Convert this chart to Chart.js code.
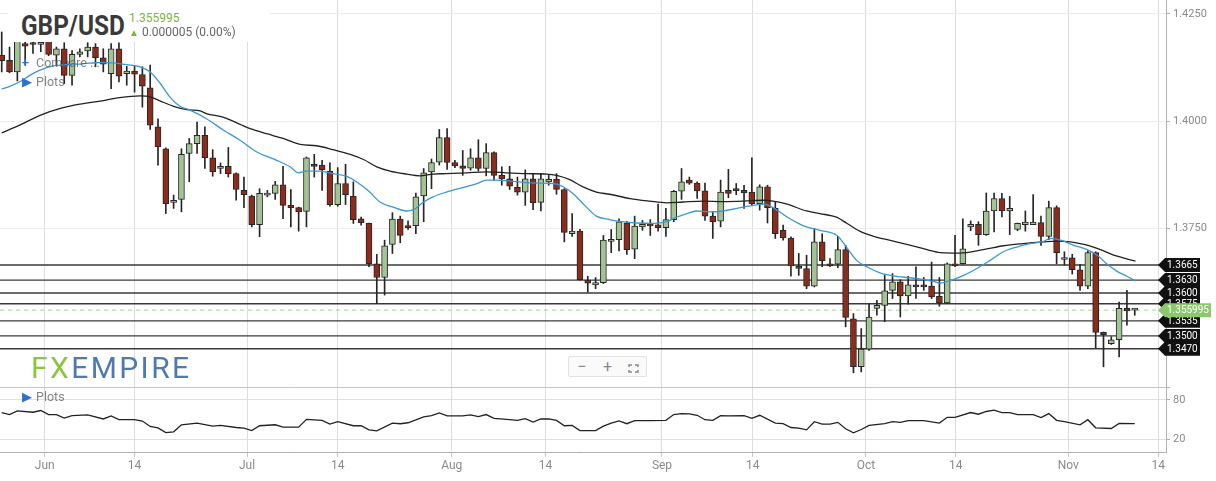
<!DOCTYPE html>
<html>
<head>
<meta charset="utf-8">
<script src="https://cdn.jsdelivr.net/npm/chart.js@4.4.1/dist/chart.umd.min.js"></script>
<style>
  body { margin: 0; background: #fff; font-family: Roboto, "Open Sans", sans-serif; }
  #wrap { position: relative; width: 1216px; height: 481px; overflow: hidden; }
  canvas { position: absolute; left: 0; }
  #main { top: 0; }
  #osc { top: 387px; }
  .abs { position: absolute; white-space: nowrap; }
  #hdrBox { left: 8px; top: 0; width: 262px; height: 42px; background: #fff; }
  #title { left: 21px; top: 9px; font-size: 28px; font-weight: 700; color: #3a3a3a; transform: scaleX(0.87); transform-origin: left; }
  #last { left: 129px; top: 11px; font-size: 12px; color: #7cb342; }
  #chg { left: 129px; top: 25px; font-size: 12px; color: #666; }
  #chg b { color: #7cb342; font-size: 10px; font-weight: 400; }
  .menu { font-size: 12.5px; color: rgba(90, 90, 90, 0.75); }
  .menu i { font-style: normal; color: #2f6fd6; display: inline-block; width: 14px; }
  #cmp { left: 22px; top: 55px; }
  #plt { left: 22px; top: 74px; }
  #plt2 { left: 22px; top: 389px; }
  #logo { left: 31px; top: 350px; font-size: 30px; letter-spacing: 2.4px; color: #4f79b0; }
  #logo span { color: #8cc63e; }
  #zoomBar { left: 568px; top: 356px; width: 77px; height: 19px; border: 1px solid #e2e2e2; border-radius: 2px; background: #fafafa; display: flex; }
  #zoomBar div { flex: 1; text-align: center; color: #8a8a8a; font-size: 16px; line-height: 19px; }
</style>
</head>
<body>
<div id="wrap">
  <canvas id="main" width="1216" height="387"></canvas>
  <canvas id="osc" width="1216" height="94"></canvas>

  <div id="hdrBox" class="abs"></div>
  <div id="title" class="abs">GBP/USD</div>
  <div id="last" class="abs">1.355995</div>
  <div id="chg" class="abs"><b>▲</b> 0.000005 (0.00%)</div>
  <div id="cmp" class="abs menu"><i>+</i>Compare ...</div>
  <div id="plt" class="abs menu"><i>▶</i>Plots</div>
  <div id="plt2" class="abs menu"><i>▶</i>Plots</div>
  <div id="logo" class="abs"><span>FX</span>EMPIRE</div>
  <div id="zoomBar" class="abs">
    <div>−</div><div>+</div>
    <div><svg width="11" height="9" viewBox="0 0 11 9" style="vertical-align:-1px"><path d="M1 3V1h3M7 1h3v2M10 6v2H7M4 8H1V6" fill="none" stroke="#8a8a8a" stroke-width="1.5"/></svg></div>
  </div>
</div>

<script>
// =====================
// DATA (daily candles, Sun-Fri, 25 May - 10 Nov 2021)
// =====================

const opens = [
  1.4154, 1.4142, 1.4115, 1.4181, 1.4183, 1.4179, 1.4189, 1.4154, 1.4169, 1.4107,
  1.4156, 1.4164, 1.4173, 1.4148, 1.4111, 1.4169, 1.4111, 1.4117, 1.4109, 1.4078,
  1.3987, 1.3936, 1.3811, 1.3818, 1.3925, 1.3948, 1.3967, 1.3915, 1.3890, 1.3895,
  1.3878, 1.3839, 1.3826, 1.3759, 1.3828, 1.3832, 1.3852, 1.3804, 1.3799, 1.3790,
  1.3900, 1.3898, 1.3884, 1.3806, 1.3855, 1.3826, 1.3773, 1.3762, 1.3668, 1.3636,
  1.3713, 1.3772, 1.3757, 1.3757, 1.3826, 1.3882, 1.3905, 1.3962, 1.3904, 1.3896,
  1.3891, 1.3915, 1.3890, 1.3927, 1.3874, 1.3866, 1.3846, 1.3835, 1.3866, 1.3811,
  1.3859, 1.3865, 1.3841, 1.3738, 1.3744, 1.3630, 1.3619, 1.3624, 1.3720, 1.3724,
  1.3763, 1.3702, 1.3754, 1.3760, 1.3759, 1.3752, 1.3771, 1.3837, 1.3863, 1.3856,
  1.3838, 1.3779, 1.3767, 1.3839, 1.3843, 1.3839, 1.3835, 1.3808, 1.3847, 1.3797,
  1.3746, 1.3728, 1.3662, 1.3657, 1.3616, 1.3719, 1.3668, 1.3667, 1.3701, 1.3540,
  1.3428, 1.3469, 1.3564, 1.3571, 1.3606, 1.3626, 1.3593, 1.3619, 1.3619, 1.3616,
  1.3592, 1.3577, 1.3668, 1.3668, 1.3754, 1.3760, 1.3736, 1.3791, 1.3820, 1.3791,
  1.3748, 1.3759, 1.3759, 1.3764, 1.3732, 1.3799, 1.3678, 1.3682, 1.3654, 1.3616,
  1.3694, 1.3508, 1.3482, 1.3491, 1.3564, 1.35599
];

const highs = [
  1.4208, 1.4173, 1.4204, 1.4190, 1.4193, 1.4195, 1.4204, 1.4173, 1.4183, 1.4165,
  1.4169, 1.4183, 1.4181, 1.4169, 1.4181, 1.4183, 1.4128, 1.4128, 1.4127, 1.4131,
  1.4006, 1.3938, 1.3828, 1.3936, 1.3960, 1.3998, 1.3987, 1.3934, 1.3903, 1.3939,
  1.3880, 1.3870, 1.3828, 1.3843, 1.3839, 1.3860, 1.3895, 1.3841, 1.3800, 1.3917,
  1.3923, 1.3909, 1.3903, 1.3892, 1.3900, 1.3859, 1.3777, 1.3763, 1.3690, 1.3723,
  1.3787, 1.3779, 1.3768, 1.3833, 1.3890, 1.3912, 1.3981, 1.3983, 1.3909, 1.3932,
  1.3936, 1.3957, 1.3948, 1.3929, 1.3894, 1.3895, 1.3870, 1.3887, 1.3878, 1.3878,
  1.3874, 1.3878, 1.3843, 1.3785, 1.3748, 1.3639, 1.3636, 1.3734, 1.3748, 1.3773,
  1.3767, 1.3779, 1.3769, 1.3771, 1.3807, 1.3797, 1.3839, 1.3890, 1.3870, 1.3859,
  1.3856, 1.3789, 1.3863, 1.3888, 1.3855, 1.3851, 1.3915, 1.3852, 1.3851, 1.3812,
  1.3758, 1.3731, 1.3692, 1.3688, 1.3750, 1.3738, 1.3680, 1.3732, 1.3711, 1.3552,
  1.3517, 1.3575, 1.3583, 1.3641, 1.3645, 1.3631, 1.3639, 1.3661, 1.3636, 1.3672,
  1.3636, 1.3670, 1.3734, 1.3773, 1.3768, 1.3766, 1.3833, 1.3833, 1.3832, 1.3825,
  1.3763, 1.3791, 1.3829, 1.3779, 1.3814, 1.3803, 1.3696, 1.3690, 1.3667, 1.3698,
  1.3696, 1.3509, 1.3498, 1.3579, 1.3606, 1.3564
];

const lows = [
  1.4115, 1.4113, 1.4094, 1.4131, 1.4158, 1.4162, 1.4153, 1.4131, 1.4088, 1.4084,
  1.4150, 1.4150, 1.4127, 1.4115, 1.4076, 1.4092, 1.4084, 1.4068, 1.4033, 1.3981,
  1.3898, 1.3785, 1.3797, 1.3789, 1.3859, 1.3925, 1.3890, 1.3872, 1.3878, 1.3870,
  1.3816, 1.3799, 1.3754, 1.3731, 1.3824, 1.3818, 1.3773, 1.3754, 1.3744, 1.3754,
  1.3870, 1.3839, 1.3802, 1.3802, 1.3806, 1.3762, 1.3758, 1.3661, 1.3575, 1.3595,
  1.3692, 1.3717, 1.3748, 1.3738, 1.3766, 1.3843, 1.3898, 1.3888, 1.3892, 1.3874,
  1.3886, 1.3884, 1.3873, 1.3863, 1.3851, 1.3841, 1.3828, 1.3804, 1.3794, 1.3791,
  1.3851, 1.3830, 1.3719, 1.3732, 1.3630, 1.3602, 1.3610, 1.3622, 1.3694, 1.3698,
  1.3690, 1.3680, 1.3746, 1.3734, 1.3744, 1.3732, 1.3766, 1.3818, 1.3853, 1.3820,
  1.3769, 1.3727, 1.3754, 1.3822, 1.3829, 1.3797, 1.3804, 1.3793, 1.3763, 1.3727,
  1.3723, 1.3639, 1.3641, 1.3610, 1.3614, 1.3661, 1.3661, 1.3659, 1.3521, 1.3414,
  1.3416, 1.3466, 1.3548, 1.3533, 1.3587, 1.3544, 1.3574, 1.3587, 1.3606, 1.3587,
  1.3569, 1.3575, 1.3661, 1.3667, 1.3745, 1.3711, 1.3734, 1.3742, 1.3777, 1.3736,
  1.3745, 1.3744, 1.3759, 1.3711, 1.3724, 1.3668, 1.3665, 1.3644, 1.3606, 1.3610,
  1.3472, 1.3428, 1.3480, 1.3451, 1.3525, 1.3548
];

const closes = [
  1.4141, 1.4115, 1.4189, 1.4175, 1.4179, 1.4184, 1.4156, 1.4169, 1.4107, 1.4156,
  1.4162, 1.4173, 1.4148, 1.4133, 1.4169, 1.4105, 1.4117, 1.4110, 1.4082, 1.3991,
  1.3940, 1.3808, 1.3816, 1.3923, 1.3948, 1.3967, 1.3915, 1.3882, 1.3895, 1.3878,
  1.3841, 1.3829, 1.3759, 1.3832, 1.3833, 1.3852, 1.3804, 1.3799, 1.3789, 1.3915,
  1.3895, 1.3887, 1.3806, 1.3855, 1.3829, 1.3771, 1.3764, 1.3668, 1.3636, 1.3710,
  1.3772, 1.3734, 1.3752, 1.3824, 1.3880, 1.3904, 1.3962, 1.3904, 1.3896, 1.3890,
  1.3915, 1.3890, 1.3927, 1.3874, 1.3866, 1.3849, 1.3835, 1.3866, 1.3810, 1.3866,
  1.3865, 1.3841, 1.3741, 1.3744, 1.3631, 1.3623, 1.3624, 1.3723, 1.3725, 1.3766,
  1.3701, 1.3756, 1.3760, 1.3756, 1.3752, 1.3771, 1.3837, 1.3859, 1.3856, 1.3838,
  1.3779, 1.3766, 1.3835, 1.3832, 1.3838, 1.3833, 1.3808, 1.3847, 1.3799, 1.3738,
  1.3728, 1.3663, 1.3657, 1.3616, 1.3719, 1.3675, 1.3663, 1.3701, 1.3543, 1.3428,
  1.3469, 1.3544, 1.3571, 1.3605, 1.3626, 1.3593, 1.3619, 1.3614, 1.3614, 1.3591,
  1.3577, 1.3668, 1.3663, 1.3703, 1.3760, 1.3736, 1.3791, 1.3820, 1.3791, 1.3797,
  1.3762, 1.3765, 1.3765, 1.3732, 1.3799, 1.3694, 1.3682, 1.3654, 1.3616, 1.3694,
  1.3508, 1.3503, 1.3491, 1.3564, 1.3558, 1.355995
];

// blue moving average, read at these candle positions
const ma20Idx = [
  0, 1.1, 2.3, 3.6, 4.9, 6.1, 8.3, 10.4, 12.6, 14.3, 16, 17.7, 19, 20.3, 21.5, 22.8,
  24.1, 26.2, 28.4, 30.5, 32.6, 35.2, 36.9, 38, 39, 40.7, 42.4, 44.1, 45.4, 47.1,
  48.4, 50.1, 51.8, 52.7, 54, 55.2, 56.9, 59.1, 60.8, 62.1, 63.3, 65.5, 67.2, 68.9,
  70.6, 71.9, 73.1, 74.4, 76.1, 77.8, 79.1, 81.3, 83.4, 85.1, 86.4, 87.7, 88.9, 90.6,
  92.3, 94.1, 95.8, 97.5, 98.7, 100.5, 102.2, 103, 104.7, 106.9, 108.1, 109.4, 110.7,
  112.4, 114.1, 115.8, 117.5, 119.2, 120.1, 121.4, 123.1, 124.8, 126.5, 128.2, 129.9,
  131.6, 133.3, 134.2, 135.5, 137.2, 138.9, 140.2, 141.4, 142.7, 144, 145.1
];
const ma20Val = [
  1.4075, 1.4082, 1.4092, 1.4107, 1.4119, 1.4127, 1.4132, 1.4134, 1.4137, 1.4136, 1.4132, 1.4127, 1.4115, 1.4088, 1.4057, 1.4035,
  1.4026, 1.4006, 1.3979, 1.3956, 1.3929, 1.3909, 1.3894, 1.3880, 1.3884, 1.3884, 1.3878, 1.3872, 1.3859, 1.3835,
  1.3812, 1.3800, 1.3791, 1.3794, 1.3812, 1.3824, 1.3835, 1.3846, 1.3855, 1.3863, 1.3863, 1.3860, 1.3857, 1.3856,
  1.3855, 1.3847, 1.3832, 1.3808, 1.3779, 1.3771, 1.3767, 1.3763, 1.3762, 1.3766, 1.3777, 1.3785, 1.3791, 1.3789,
  1.3791, 1.3797, 1.3803, 1.3807, 1.3799, 1.3777, 1.3760, 1.3754, 1.3746, 1.3734, 1.3707, 1.3676, 1.3661,
  1.3647, 1.3640, 1.3636, 1.3633, 1.3627, 1.3623, 1.3629, 1.3641, 1.3657, 1.3676, 1.3696, 1.3707,
  1.3715, 1.3720, 1.3727, 1.3723, 1.3711, 1.3701, 1.3688, 1.3668, 1.3651, 1.3639, 1.3628
];

// black moving average
const ma50Idx = [
  0, 2.3, 4.9, 7.5, 10, 12.6, 15.1, 17.7, 19, 20.3, 22, 23.7, 25.4, 26.2, 28.4, 30.5,
  31.8, 33.9, 36, 38.2, 40.3, 42.4, 44.6, 46.3, 48, 49.7, 51.8, 53.5, 55.2, 56.9,
  59.5, 62.1, 64.6, 67.2, 69.7, 71, 72.7, 74.4, 76.1, 77.8, 80.4, 82.9, 85.1, 87.2,
  89.8, 92.3, 94.9, 97.5, 98.7, 100.5, 103, 104.7, 106.9, 108.1, 109.8, 111.6, 114.1,
  116.7, 118.4, 120.1, 122.6, 125.6, 128.2, 130.7, 133.3, 135, 136.8, 138.5, 139.7,
  141, 142.3, 143.5, 145.1
];
const ma50Val = [
  1.3973, 1.3991, 1.4014, 1.4030, 1.4040, 1.4047, 1.4055, 1.4059, 1.4057, 1.4047, 1.4035, 1.4027, 1.4024, 1.4018, 1.4009, 1.3993,
  1.3983, 1.3971, 1.3960, 1.3946, 1.3943, 1.3934, 1.3923, 1.3911, 1.3894, 1.3884, 1.3877, 1.3873, 1.3877, 1.3878,
  1.3880, 1.3882, 1.3880, 1.3878, 1.3877, 1.3874, 1.3864, 1.3847, 1.3835, 1.3830, 1.3820, 1.3814, 1.3810, 1.3812,
  1.3814, 1.3813, 1.3814, 1.3816, 1.3814, 1.3807, 1.3791, 1.3785, 1.3776, 1.3763, 1.3744, 1.3732, 1.3721,
  1.3709, 1.3701, 1.3694, 1.3693, 1.3701, 1.3710, 1.3715, 1.3719, 1.3721, 1.3719, 1.3713, 1.3707,
  1.3698, 1.3688, 1.3682, 1.3674
];

// lower panel oscillator
const oscIdx = [
  0, 1, 2, 4, 5, 6, 7, 8, 9, 11, 13, 14, 15, 17, 18, 19, 20, 21, 22, 23, 25, 27, 28, 30, 31,
  32, 33, 35, 36, 38, 39, 41, 42, 43, 45, 46, 47, 48, 50, 51, 52, 54, 55, 56, 57, 59, 60,
  61, 62, 63, 65, 66, 67, 68, 69, 70, 71, 72, 73, 74, 76, 77, 78, 79, 80, 81, 83, 85, 86,
  87, 88, 89, 90, 91, 92, 93, 95, 96, 97, 99, 100, 101, 102, 103, 104, 105, 106, 107, 108,
  109, 110, 111, 113, 114, 115, 116, 118, 120, 121, 122, 124, 125, 126, 127, 128, 129, 130,
  132, 133, 134, 135, 136, 138, 139, 140, 142, 143, 145
];
const oscVal = [
  60.7, 57.6, 63.3, 61.2, 63.8, 57.6, 57.6, 52.3, 56.0, 57.0, 50.8, 55.5, 49.7, 49.7, 47.7, 39.3, 37.2, 29.9, 31.0, 41.9, 44.5, 39.8, 40.9, 37.7, 36.7,
  33.0, 40.4, 41.9, 38.3, 38.3, 50.3, 48.7, 43.0, 46.6, 40.4, 40.4, 34.1, 32.5, 44.5, 43.5, 45.0, 53.9, 56.0, 60.2, 55.5, 55.5, 57.0,
  54.4, 57.6, 51.8, 49.7, 48.7, 51.3, 46.1, 50.8, 50.8, 48.7, 40.4, 40.9, 33.0, 33.0, 39.8, 44.5, 47.7, 43.5, 48.2, 48.2, 48.7, 57.6,
  59.1, 58.6, 56.5, 49.7, 48.7, 56.0, 55.5, 56.0, 51.8, 56.5, 44.5, 43.5, 37.7, 36.7, 34.1, 46.6, 43.0, 43.0, 45.6, 35.7,
  29.4, 34.6, 40.9, 43.5, 46.6, 45.6, 48.2, 48.2, 44.5, 53.4, 53.4, 60.7, 58.1, 62.3, 64.3, 60.7, 60.7, 57.6,
  57.6, 52.9, 59.1, 48.7, 46.6, 41.9, 49.7, 37.2, 36.2, 44.0, 43.5
];

// date axis: where the month / mid-month lines sit, in candle units
const dateTickPos = [5.5, 17, 31.4, 43, 57.6, 69.6, 84.5, 96.1, 110.6, 122.1, 136.5, 148];
const dateTickLabels = ['Jun', '14', 'Jul', '14', 'Aug', '14', 'Sep', '14', 'Oct', '14', 'Nov', '14'];

const priceTicks = [1.3750, 1.4000, 1.4250];
const oscTicks = [20, 80, 100];
const levels = [1.3665, 1.3630, 1.3600, 1.3575, 1.3535, 1.3500, 1.3470];
const lastPrice = 1.355995;


// =====================
// STYLE
// =====================

const UP = '#a2c494';
const DOWN = '#8c2c1c';
const X_MIN = -0.22;
const X_MAX = 149.0;
const AXIS_W = 50;

function dateAxis(showLabels) {
    return {
        type: 'linear',
        min: X_MIN,
        max: X_MAX,
        offset: false,
        afterBuildTicks: function (axis) {
            axis.ticks = dateTickPos.map(v => ({ value: v }));
        },
        afterFit: function (axis) {
            axis.height = showLabels ? 29 : 0;
            axis.paddingLeft = 0;
            axis.paddingRight = 0;
        },
        ticks: {
            display: showLabels,
            autoSkip: false,
            maxRotation: 0,
            padding: 2,
            color: '#8a8a8a',
            font: { family: 'Roboto', size: 12 },
            callback: function (value, index) {
                return dateTickLabels[index];
            }
        },
        grid: {
            offset: false,
            color: '#dedede',
            drawTicks: showLabels,
            tickLength: 5,
            tickColor: '#c8c8c8'
        },
        border: { display: showLabels, color: '#b0b0b0' }
    };
}


// =====================
// LEVEL LINES + TAGS
// =====================

function drawTag(ctx, x0, py, w, fill, text) {
    const h = 14;
    ctx.beginPath();
    ctx.moveTo(x0, py);
    ctx.lineTo(x0 + 7, py - h / 2);
    ctx.lineTo(x0 + 7 + w, py - h / 2);
    ctx.lineTo(x0 + 7 + w, py + h / 2);
    ctx.lineTo(x0 + 7, py + h / 2);
    ctx.closePath();
    ctx.fillStyle = fill;
    ctx.fill();
    ctx.fillStyle = '#fff';
    ctx.font = '10px Roboto';
    ctx.textBaseline = 'middle';
    ctx.textAlign = 'left';
    ctx.fillText(text, x0 + 9, py + 0.5);
}

const levelsPlugin = {
    id: 'levels',
    beforeDatasetsDraw(chart) {
        const { ctx, chartArea, scales } = chart;
        ctx.save();
        ctx.strokeStyle = '#3a3a3a';
        ctx.lineWidth = 1.4;
        levels.forEach(v => {
            const py = scales.y.getPixelForValue(v);
            ctx.beginPath();
            ctx.moveTo(chartArea.left, py);
            ctx.lineTo(chartArea.right, py);
            ctx.stroke();
        });
        const lp = scales.y.getPixelForValue(lastPrice);
        ctx.setLineDash([4, 4]);
        ctx.strokeStyle = '#a9d493';
        ctx.lineWidth = 1;
        ctx.beginPath();
        ctx.moveTo(chartArea.left, lp);
        ctx.lineTo(chartArea.right, lp);
        ctx.stroke();
        ctx.restore();
    },
    afterDraw(chart) {
        const { ctx, chartArea, scales } = chart;
        ctx.save();
        levels.forEach(v => {
            drawTag(ctx, chartArea.right - 8, scales.y.getPixelForValue(v), 35, '#111', v.toFixed(4));
        });
        drawTag(ctx, chartArea.right - 8, scales.y.getPixelForValue(lastPrice), 46, '#8cc86e', lastPrice.toFixed(6));
        ctx.restore();
    }
};


// =====================
// MAIN PRICE CHART
// =====================

new Chart(document.getElementById('main'), {
    type: 'bar',
    data: {
        datasets: [
            {
                label: 'wick',
                data: highs.map((h, i) => ({ x: i, y: [lows[i], h] })),
                backgroundColor: '#262626',
                borderWidth: 0,
                barThickness: 1,
                grouped: false,
                order: 3
            },
            {
                label: 'body',
                data: opens.map((o, i) => ({ x: i, y: [o, closes[i]] })),
                backgroundColor: opens.map((o, i) => closes[i] >= o ? UP : DOWN),
                borderColor: '#262626',
                borderWidth: 1,
                borderSkipped: false,
                barThickness: 6,
                minBarLength: 2,
                grouped: false,
                order: 2
            },
            {
                type: 'line',
                label: 'MA fast',
                data: ma20Idx.map((x, i) => ({ x: x, y: ma20Val[i] })),
                borderColor: '#3b97d3',
                borderWidth: 1.3,
                pointRadius: 0,
                cubicInterpolationMode: 'monotone',
                order: 1
            },
            {
                type: 'line',
                label: 'MA slow',
                data: ma50Idx.map((x, i) => ({ x: x, y: ma50Val[i] })),
                borderColor: '#222',
                borderWidth: 1.3,
                pointRadius: 0,
                cubicInterpolationMode: 'monotone',
                order: 1
            }
        ]
    },
    options: {
        responsive: false,
        animation: false,
        layout: { padding: 0 },
        plugins: {
            legend: { display: false },
            tooltip: { enabled: false }
        },
        scales: {
            x: dateAxis(false),
            y: {
                position: 'right',
                min: 1.33809,
                max: 1.42826,
                afterBuildTicks: function (axis) {
                    axis.ticks = priceTicks.map(v => ({ value: v }));
                },
                afterFit: function (axis) {
                    axis.width = AXIS_W;
                    axis.paddingTop = 0;
                    axis.paddingBottom = 0;
                },
                ticks: {
                    padding: 3,
                    color: '#8a8a8a',
                    font: { family: 'Roboto', size: 11 },
                    callback: v => v.toFixed(4)
                },
                grid: { color: '#ececec', tickLength: 4, tickColor: '#b0b0b0' },
                border: { display: true, color: '#b0b0b0' }
            }
        }
    },
    plugins: [levelsPlugin]
});


// =====================
// OSCILLATOR PANEL
// =====================

new Chart(document.getElementById('osc'), {
    type: 'line',
    data: {
        datasets: [{
            data: oscIdx.map((x, i) => ({ x: x, y: oscVal[i] })),
            borderColor: '#222',
            borderWidth: 1.3,
            pointRadius: 0,
            tension: 0
        }]
    },
    options: {
        responsive: false,
        animation: false,
        layout: { padding: 0 },
        plugins: {
            legend: { display: false },
            tooltip: { enabled: false }
        },
        scales: {
            x: dateAxis(true),
            y: {
                position: 'right',
                min: 0,
                max: 100,
                afterBuildTicks: function (axis) {
                    axis.ticks = oscTicks.map(v => ({ value: v }));
                },
                afterFit: function (axis) {
                    axis.width = AXIS_W;
                    axis.paddingTop = 0;
                    axis.paddingBottom = 0;
                },
                ticks: {
                    padding: 3,
                    color: '#8a8a8a',
                    font: { family: 'Roboto', size: 11 },
                    callback: v => (v === 100 ? '' : String(v))
                },
                grid: {
                    color: ctx => (ctx.tick && ctx.tick.value === 100 ? '#c4c4c4' : '#e0e0e0'),
                    tickLength: 4,
                    tickColor: '#b0b0b0'
                },
                border: { display: true, color: '#b0b0b0' }
            }
        }
    }
});
</script>
</body>
</html>
